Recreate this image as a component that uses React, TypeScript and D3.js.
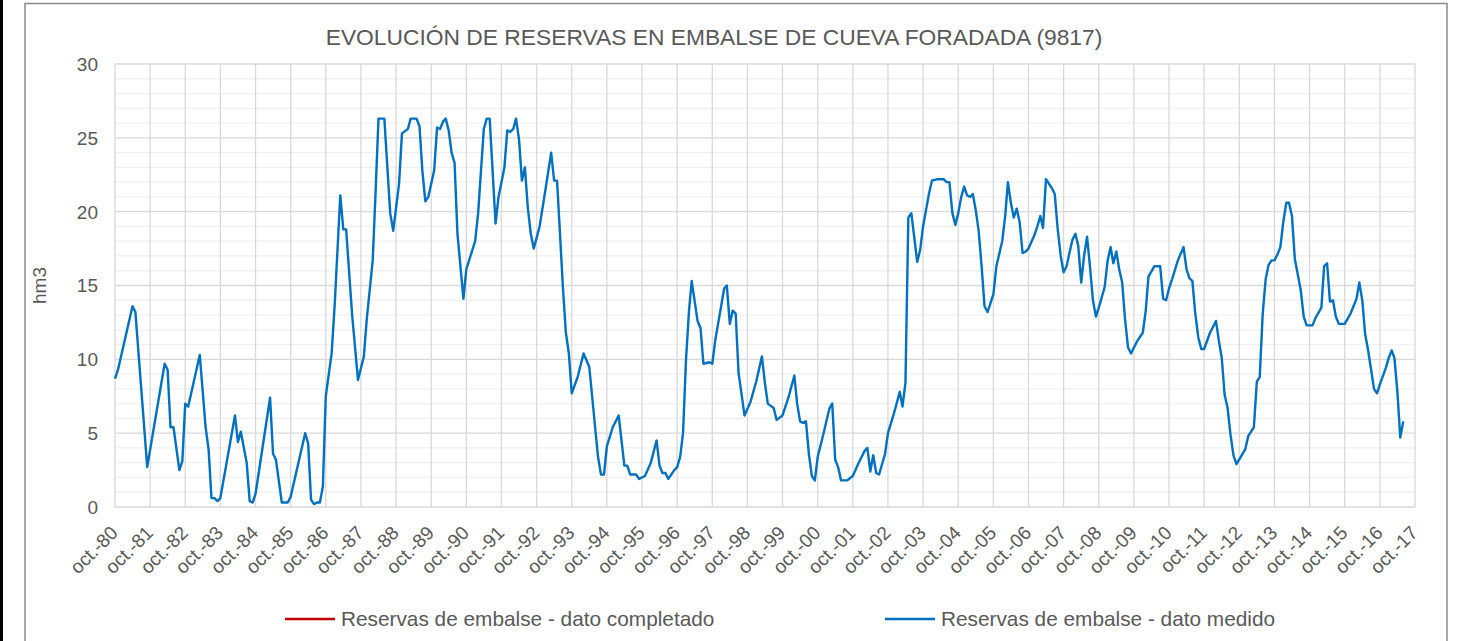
import React from "react";
import * as d3 from "d3";

// months since Oct-1980
const monthOffsets = [
  0, 1, 6, 7, 11, 17, 18, 19, 20, 22, 23, 24, 25, 29, 31, 32, 33, 34, 35, 36, 41, 42, 43, 45, 46, 47, 48,
  53, 54, 55, 57, 59, 60, 65, 66, 67, 68, 69, 70, 71, 72, 74, 75, 77, 78, 79, 81, 83, 85, 86, 88, 89, 90,
  92, 94, 95, 97, 98, 100, 101, 103, 104, 105, 106, 107, 109, 110, 111, 112, 113, 114, 115, 116, 117, 119,
  120, 123, 124, 126, 127, 128, 129, 130, 131, 133, 134, 135, 136, 137, 138, 139, 140, 141, 142, 143, 145,
  147, 149, 150, 151, 152, 153, 154, 155, 156, 158, 160, 162, 163, 164, 165, 166, 167, 168, 170, 172, 174,
  175, 176, 178, 179, 181, 183, 185, 186, 187, 188, 189, 191, 192, 193, 194, 195, 196, 197, 199, 200, 201,
  203, 204, 205, 207, 208, 209, 210, 211, 212, 213, 215, 217, 219, 221, 222, 223, 225, 226, 228, 230, 232,
  233, 234, 235, 236, 237, 238, 239, 240, 242, 244, 245, 246, 247, 248, 250, 252, 254, 256, 257, 258, 259,
  260, 261, 263, 264, 266, 268, 269, 270, 271, 272, 273, 274, 275, 276, 278, 279, 281, 283, 284, 285, 286,
  287, 288, 289, 290, 291, 292, 293, 294, 295, 296, 297, 298, 299, 300, 301, 303, 304, 305, 306, 307, 308,
  309, 310, 311, 312, 314, 315, 316, 317, 318, 320, 321, 322, 323, 324, 325, 326, 327, 328, 329, 330, 331,
  332, 333, 334, 335, 336, 338, 339, 340, 341, 342, 343, 344, 345, 346, 347, 349, 351, 352, 353, 355, 357,
  358, 359, 360, 361, 363, 365, 366, 367, 368, 369, 370, 371, 372, 374, 376, 377, 378, 379, 380, 381, 382,
  383, 386, 387, 389, 390, 391, 392, 393, 394, 395, 396, 397, 398, 399, 400, 401, 402, 403, 405, 406, 407,
  409, 410, 412, 413, 414, 415, 416, 417, 418, 420, 422, 424, 425, 426, 427, 428, 430, 431, 432, 434, 435,
  436, 437, 438, 439, 440,
];

// hm3
const reservasMedido = [
  8.7, 9.3, 13.6, 13.2, 2.7, 9.7, 9.3, 5.4, 5.4, 2.5, 3.1, 7.0, 6.8, 10.3, 5.4, 3.9, 0.6, 0.6, 0.4, 0.6, 6.2, 4.4, 5.1, 3.0, 0.4, 0.3, 0.9,
  7.4, 3.6, 3.2, 0.3, 0.3, 0.7, 5.0, 4.3, 0.5, 0.2, 0.3, 0.3, 1.4, 7.5, 10.4, 13.6, 21.1, 18.8, 18.8, 13.1, 8.6, 10.2, 12.7, 16.7, 21.2, 26.3,
  26.3, 19.9, 18.7, 21.9, 25.3, 25.6, 26.3, 26.3, 25.8, 22.8, 20.7, 21.0, 22.8, 25.7, 25.6, 26.1, 26.3, 25.5, 24.0, 23.3, 18.5, 14.1,
  16.1, 18.0, 19.9, 25.6, 26.3, 26.3, 22.8, 19.2, 21.0, 23.0, 25.5, 25.4, 25.6, 26.3, 24.9, 22.1, 23.0, 20.3, 18.5, 17.5, 19.0,
  21.5, 24.0, 22.1, 22.1, 18.5, 14.9, 11.8, 10.4, 7.7, 8.8, 10.4, 9.5, 7.5, 5.4, 3.4, 2.2, 2.2, 4.1, 5.4, 6.2, 2.8,
  2.8, 2.2, 2.2, 1.9, 2.1, 3.0, 4.5, 2.8, 2.3, 2.3, 1.9, 2.5, 2.7, 3.4, 5.0, 10.0, 13.3, 15.3, 12.6, 12.1, 9.7,
  9.8, 9.7, 11.3, 13.6, 14.8, 15.0, 12.4, 13.3, 13.1, 9.1, 6.2, 7.1, 8.5, 10.2, 8.4, 7.0, 6.7, 5.9, 6.2, 7.4, 8.9,
  7.0, 5.8, 5.7, 5.8, 3.6, 2.1, 1.8, 3.4, 5.0, 6.7, 7.0, 3.2, 2.7, 1.8, 1.8, 2.1, 3.0, 3.8, 4.0, 2.4, 3.5,
  2.3, 2.2, 3.6, 5.0, 6.3, 7.8, 6.8, 8.4, 19.6, 19.9, 18.3, 16.6, 17.4, 19.0, 21.2, 22.1, 22.2, 22.2, 22.0, 22.0, 19.9,
  19.1, 19.9, 21.0, 21.7, 21.1, 21.0, 21.2, 20.1, 18.7, 16.3, 13.6, 13.2, 13.8, 14.4, 16.3, 18.0, 19.7, 22.0, 20.6, 19.6, 20.2,
  19.3, 17.2, 17.3, 17.5, 18.4, 19.0, 19.7, 18.9, 22.2, 21.6, 21.2, 18.8, 17.0, 15.9, 16.3, 17.2, 18.1, 18.5, 17.7, 15.2, 17.0,
  18.3, 16.3, 14.0, 12.9, 13.5, 14.9, 16.7, 17.6, 16.5, 17.3, 16.1, 15.2, 12.7, 10.8, 10.4, 11.2, 11.8, 13.3, 15.6, 16.3, 16.3,
  14.1, 14.0, 14.8, 15.4, 16.7, 17.6, 16.1, 15.5, 15.3, 13.1, 11.5, 10.7, 10.7, 11.8, 12.6, 11.3, 10.1, 7.6, 6.7, 4.9, 3.5,
  2.9, 3.9, 4.8, 5.4, 8.5, 8.8, 13.1, 15.4, 16.4, 16.7, 16.7, 17.1, 17.6, 19.3, 20.6, 20.6, 19.7, 16.8, 14.7, 12.9, 12.3,
  12.3, 12.8, 13.5, 16.3, 16.5, 13.9, 14.0, 12.9, 12.4, 12.4, 13.1, 14.1, 15.2, 14.0, 11.7, 10.6, 8.0, 7.7, 8.3, 9.4, 10.1,
  10.6, 10.1, 7.8, 4.7, 5.8,
];

const reservasCompletado: number[] = [];

const yTicks = [0, 5, 10, 15, 20, 25, 30];
const yMinor = d3.range(0, 31, 1);
const tickYears = d3.range(1980, 2018);

const title = "EVOLUCIÓN DE RESERVAS EN EMBALSE DE CUEVA FORADADA (9817)";
const yLabel = "hm3";
const legendLabels = ["Reservas de embalse - dato completado", "Reservas de embalse - dato medido"];
const colors = { completado: "#c00000", medido: "#0070c0" };

const W = 1460;
const H = 641;
const M = { left: 115, right: 1415, top: 64, bottom: 507 };

export default function App() {
  const x = d3
    .scaleTime()
    .domain([new Date(1980, 9, 1), new Date(2017, 9, 1)])
    .range([M.left, M.right]);
  const y = d3.scaleLinear().domain([0, 30]).range([M.bottom, M.top]);

  const pts = monthOffsets.map((m, i) => ({ d: new Date(1980, 9 + m, 1), v: reservasMedido[i] }));
  const line = d3
    .line<{ d: Date; v: number }>()
    .x((p) => x(p.d))
    .y((p) => y(p.v));

  const font = "'Liberation Sans', Arial, sans-serif";
  const txt = "#595959";

  return (
    <svg
      width={W}
      height={H}
      style={{ position: "fixed", left: 0, top: 0, background: "#fff" }}
      fontFamily={font}
    >
      <rect x={0} y={0} width={W} height={H} fill="#fff" />
      <rect x={0} y={0} width={3} height={H} fill="#000" />
      <path d={`M25,${H + 2}V3.5H1447V${H + 2}`} fill="none" stroke="#8a8a8a" strokeWidth={1.5} />

      <text x={714} y={45} textAnchor="middle" fontSize={22.8} fill={txt}>
        {title}
      </text>

      {/* minor horizontal grid */}
      {yMinor
        .filter((v) => v % 5 !== 0)
        .map((v) => (
          <line key={"mn" + v} x1={M.left} x2={M.right} y1={y(v)} y2={y(v)} stroke="#f0f0f0" strokeWidth={1.3} />
        ))}
      {/* vertical grid */}
      {tickYears.map((yr) => (
        <line
          key={"vg" + yr}
          x1={x(new Date(yr, 9, 1))}
          x2={x(new Date(yr, 9, 1))}
          y1={M.top}
          y2={M.bottom}
          stroke="#d9d9d9"
          strokeWidth={1.3}
        />
      ))}
      {/* major horizontal grid */}
      {yTicks.map((v) => (
        <line key={"mj" + v} x1={M.left} x2={M.right} y1={y(v)} y2={y(v)} stroke="#d9d9d9" strokeWidth={1.3} />
      ))}

      {yTicks.map((v) => (
        <text key={"yt" + v} x={98} y={y(v)} dy="0.36em" textAnchor="end" fontSize={19} fill={txt}>
          {v}
        </text>
      ))}
      <text transform={`translate(46,${(M.top + M.bottom) / 2}) rotate(-90)`} textAnchor="middle" fontSize={19} fill={txt}>
        {yLabel}
      </text>

      {tickYears.map((yr) => {
        const tx = x(new Date(yr, 9, 1));
        return (
          <text
            key={"xt" + yr}
            transform={`translate(${tx + 4},${M.bottom + 27}) rotate(-45)`}
            textAnchor="end"
            fontSize={19}
            fill={txt}
          >
            {`oct.-${String(yr % 100).padStart(2, "0")}`}
          </text>
        );
      })}

      {reservasCompletado.length > 0 && (
        <path d={line(pts) || ""} fill="none" stroke={colors.completado} strokeWidth={2.25} />
      )}
      <path d={line(pts) || ""} fill="none" stroke={colors.medido} strokeWidth={2.4} strokeLinejoin="round" />

      {/* legend */}
      <line x1={285} x2={335} y1={619} y2={619} stroke={colors.completado} strokeWidth={2.4} />
      <text x={341} y={619} dy="0.36em" fontSize={20.8} fill={txt}>
        {legendLabels[0]}
      </text>
      <line x1={885} x2={935} y1={619} y2={619} stroke={colors.medido} strokeWidth={2.4} />
      <text x={941} y={619} dy="0.36em" fontSize={20.8} fill={txt}>
        {legendLabels[1]}
      </text>
    </svg>
  );
}
